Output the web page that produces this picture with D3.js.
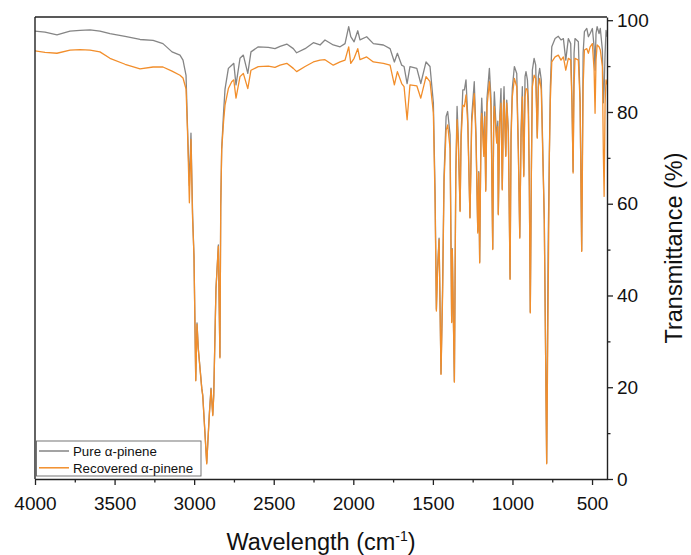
<!DOCTYPE html>
<html>
<head>
<meta charset="utf-8">
<script src="https://cdn.jsdelivr.net/npm/d3@7"></script>
<style>
  html, body { margin: 0; padding: 0; background: #fff; }
  svg text { font-family: "Liberation Sans", Arial, sans-serif; fill: #111; }
</style>
</head>
<body>
<svg id="chart" width="691" height="555"></svg>
<script>
// Wavenumber (cm-1) sample positions
const wavenumbers = [4000,3937,3862,3780,3717,3654,3592,3529,3434,3340,3258,3196,3139,3089,3070,3051,3042,3030,3020,3010,3001,2990,2982,2974,2952,2946,2921,2905,2894,2883,2877,2863,2848,2838,2833,2827,2815,2806,2785,2764,2751,2737,2712,2691,2663,2643,2597,2534,2492,2460,2418,2377,2356,2303,2251,2209,2178,2126,2083,2052,2029,2016,1995,1972,1958,1916,1874,1811,1769,1742,1723,1696,1681,1662,1644,1601,1576,1543,1518,1497,1486,1478,1471,1461,1449,1439,1430,1417,1407,1392,1382,1378,1365,1356,1348,1340,1329,1323,1312,1302,1292,1281,1267,1256,1240,1229,1218,1212,1206,1197,1193,1180,1174,1168,1160,1145,1135,1124,1118,1114,1099,1092,1089,1080,1072,1064,1057,1053,1042,1036,1026,1015,1009,1001,988,973,963,954,946,938,929,921,915,906,900,894,888,881,875,864,854,844,837,829,819,800,785,776,768,762,753,732,712,695,680,665,649,634,626,619,613,607,586,575,565,556,548,533,523,512,498,487,481,475,468,456,448,435,429,424,418,412,406];

// Transmittance (%) of pure alpha-pinene
const pureT = [97.6,97.4,96.8,97.6,97.8,97.9,97.6,97.1,96.5,95.8,95.6,94.9,93.1,92.4,91.3,88,77,64,75.4,58,48.5,21.5,34,28.5,19.8,18.3,3.5,14,19.8,14,18.3,41.5,51,26.6,59.5,72,80,85,89.5,90.2,90.6,85.9,91.7,92.4,88.4,93.1,94.2,94.1,93.8,94.3,94.8,93.8,92.9,93.8,95.1,94.6,95.7,94.6,94.2,94.9,98.6,96.4,95.3,97.7,95.7,96.4,94.9,94.6,93.8,90.9,92.8,90.2,89.9,86.2,89.9,89.5,86.2,90.9,89.9,82,62,37,46,52.5,23,42,66,79,80.1,75,34.3,50.2,21.3,66.7,81.2,74,58.5,75,84.8,84.8,87,79,57,79,86.6,75,54,67,47.3,79,83,71,80,63,83,89.5,83,50.2,79,84.4,74,78,57.8,79,85.1,63.2,81,85.5,70.5,82.6,76,43.7,75,85.1,89.9,88.4,72,52.7,76,85.5,66.2,87.7,88.8,87,82.6,64,36.4,67.6,89.1,91.7,90.2,74.5,87.7,89.5,87,56.5,3.5,50.4,71.2,85.5,94.2,96,96.5,95.7,96,91.3,96,94.9,82,67,92.8,96,95.3,82.5,49.8,92.8,97.5,98.2,96.4,97.1,98.2,94.2,89.1,97.1,98.6,97.1,98.2,93.5,82,85,92.8,97.8,96.4];

// Transmittance (%) of recovered alpha-pinene
const recoveredT = [93.3,93.0,92.8,93.5,93.6,93.5,93.1,91.7,90.4,89.4,89.8,89.8,88.9,88.0,87.4,85,76,60.2,74,57,48.5,21.4,33.7,28.3,19.6,18.1,3.3,13.8,19.6,13.8,18.1,41.3,50.7,26.4,59.4,71.7,78,81.5,85.1,86.6,87,83,87.7,88.4,85.1,89.1,89.9,90.0,89.7,90.2,90.6,89.5,88.8,89.9,90.9,91.3,91.4,90.2,90.9,91.3,94.2,90.6,91.7,93.8,91.4,92.0,90.9,90.6,90.2,85.9,88.8,86.2,85.5,78.3,85.9,85.7,83.0,87.7,86.6,79.8,60,36.6,45,52.2,22.8,40,64.5,76,77.2,72,34.1,50,21.1,66.7,78.3,72.5,58.3,73.9,81.5,81.2,83.7,77.5,56.9,77.6,84,73.9,53.6,66.7,47.1,77.6,79.7,70.3,79,62.7,81.2,86.6,81.2,50,77.5,81.2,73.2,76.8,57.6,77.6,81.9,63,79.7,82.6,70.3,81.9,75.4,43.5,73.9,83.3,87.3,85.5,71,52.5,74.6,83.3,65.9,83.3,85.1,84.8,79.3,63.8,36.2,67.4,85.5,88,87.3,74.3,85.5,87.3,84.8,56.5,3.3,38.4,71,82.6,90.9,92,92.4,91.3,92,89.1,91.7,91.3,81.9,66.7,85.5,91.7,91.3,82,49.6,85.5,93.5,93.8,92.8,94.2,94.9,89.1,79.7,91.3,94.6,94.2,93.5,89.9,71,61.6,82,87,86];

const seriesNames = ["Pure α-pinene", "Recovered α-pinene"];
const seriesColors = ["#858585", "#f28e2b"];
const xTicks = [4000, 3500, 3000, 2500, 2000, 1500, 1000, 500];
const xMinorTicks = [3750, 3250, 2750, 2250, 1750, 1250, 750];
const yTicks = [0, 20, 40, 60, 80, 100];
const yMinorTicks = [10, 30, 50, 70, 90];

const svg = d3.select("#chart");
const L = 35, R = 607, T = 17, B = 479;

const x = d3.scaleLinear().domain([4000, 406]).range([L, R]);
const y = d3.scaleLinear().domain([0, 100.7]).range([B, T]);

svg.append("defs").append("clipPath").attr("id", "plotclip")
  .append("rect").attr("x", L).attr("y", T).attr("width", R - L).attr("height", B - T);

const series = [pureT, recoveredT];
const line = d3.line().x(d => x(d[0])).y(d => y(d[1]));

const g = svg.append("g").attr("clip-path", "url(#plotclip)");
series.forEach((vals, i) => {
  const pts = wavenumbers.map((w, k) => [w, vals[k]]);
  g.append("path")
    .datum(pts)
    .attr("d", line)
    .attr("fill", "none")
    .attr("stroke", seriesColors[i])
    .attr("stroke-width", 1.3)
    .attr("stroke-linejoin", "round");
});

// Frame: left and top
svg.append("line").attr("x1", L).attr("x2", L).attr("y1", T).attr("y2", B)
  .attr("stroke", "#222").attr("stroke-width", 1.4);
svg.append("line").attr("x1", L).attr("x2", R).attr("y1", T).attr("y2", T)
  .attr("stroke", "#222").attr("stroke-width", 1.4);

const tickFont = "19px";

// Bottom axis
const xAxis = svg.append("g").attr("transform", `translate(0,${B})`)
  .call(d3.axisBottom(x).tickValues(xTicks).tickSize(6).tickSizeOuter(0).tickPadding(12).tickFormat(d3.format("d")));
xAxis.select(".domain").attr("stroke", "#222").attr("stroke-width", 1.4);
xAxis.selectAll(".tick line").attr("stroke", "#222").attr("stroke-width", 1.3);
xAxis.selectAll(".tick text").style("font-size", tickFont).attr("fill", "#111")
  .style("font-family", "'Liberation Sans', Arial, sans-serif");
const xMinor = svg.append("g").attr("transform", `translate(0,${B})`)
  .call(d3.axisBottom(x).tickValues(xMinorTicks).tickSize(3.5).tickSizeOuter(0).tickFormat(""));
xMinor.select(".domain").remove();
xMinor.selectAll(".tick line").attr("stroke", "#222").attr("stroke-width", 1.3);

// Right axis
const yAxis = svg.append("g").attr("transform", `translate(${R},0)`)
  .call(d3.axisRight(y).tickValues(yTicks).tickSize(6).tickSizeOuter(0).tickPadding(4));
yAxis.select(".domain").attr("stroke", "#222").attr("stroke-width", 1.4);
yAxis.selectAll(".tick line").attr("stroke", "#222").attr("stroke-width", 1.3);
yAxis.selectAll(".tick text").style("font-size", tickFont).attr("fill", "#111")
  .style("font-family", "'Liberation Sans', Arial, sans-serif");
const yMinor = svg.append("g").attr("transform", `translate(${R},0)`)
  .call(d3.axisRight(y).tickValues(yMinorTicks).tickSize(3.5).tickSizeOuter(0).tickFormat(""));
yMinor.select(".domain").remove();
yMinor.selectAll(".tick line").attr("stroke", "#222").attr("stroke-width", 1.3);

// Axis titles
const xt = svg.append("text").attr("x", 321).attr("y", 550).attr("text-anchor", "middle")
  .style("font-size", "23.5px");
xt.append("tspan").text("Wavelength (cm");
xt.append("tspan").attr("dy", -9).style("font-size", "14px").text("-1");
xt.append("tspan").attr("dy", 9).text(")");

svg.append("text").attr("transform", "translate(682,248) rotate(-90)")
  .attr("text-anchor", "middle").style("font-size", "23.5px").text("Transmittance (%)");

// Legend
const lg = svg.append("g");
lg.append("rect").attr("x", 36.5).attr("y", 441).attr("width", 164.5).attr("height", 35)
  .attr("fill", "#fff").attr("stroke", "#666").attr("stroke-width", 0.9);
seriesNames.forEach((name, i) => {
  const yy = 451 + i * 16.8;
  lg.append("line").attr("x1", 39).attr("x2", 69).attr("y1", yy).attr("y2", yy)
    .attr("stroke", seriesColors[i]).attr("stroke-width", 1.5);
  lg.append("text").attr("x", 73).attr("y", yy + 4.7).style("font-size", "13.3px").text(name);
});
</script>
</body>
</html>
